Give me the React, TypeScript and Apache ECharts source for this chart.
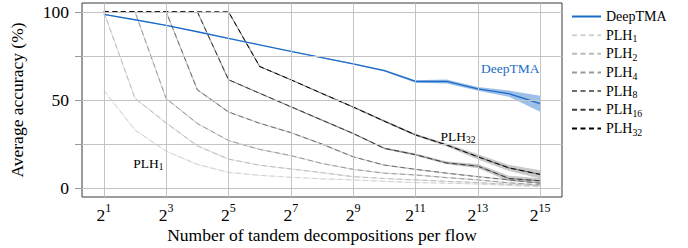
import React, { useEffect, useRef } from "react";
import * as echarts from "echarts";

const FONT = "'Liberation Serif', 'Times New Roman', Times, serif";

const exps = [1, 2, 3, 4, 5, 6, 7, 8, 9, 10, 11, 12, 13, 14, 15];
const xTickExps = [1, 3, 5, 7, 9, 11, 13, 15];
const yGridValues = [0, 25, 50, 75, 100];
const yLabelValues = [0, 50, 100];

const deepTMA = [98.5, 95.5, 92.3, 88.7, 85, 81.3, 77.6, 74, 70.5, 66.7, 60.5, 60.5, 56.3, 53.6, 47.9];
const deepTMALow = [98.3, 95.3, 92.1, 88.5, 84.8, 81.1, 77.4, 73.7, 70.1, 66.2, 59.8, 59.4, 55.2, 51.8, 43.4];
const deepTMAHigh = [98.7, 95.7, 92.5, 88.9, 85.2, 81.5, 77.8, 74.3, 70.9, 67.2, 61.2, 61.6, 57.4, 55.4, 52.4];

const plh1 = [55.5, 33, 21, 13.5, 9, 7.3, 6.2, 5.3, 4.7, 3.9, 3.2, 2.8, 2.4, 1.6, 0.8];
const plh2 = [100, 51, 37, 24, 16.5, 13, 10.9, 8.8, 6.5, 5.5, 4.7, 3.9, 3.2, 2.2, 1.3];
const plh4 = [100, 100, 50.8, 36.7, 27, 22, 18.5, 14, 10.7, 8.5, 7.5, 6, 4.7, 3, 1.9];
const plh8 = [100, 100, 100, 55.8, 43.2, 36.8, 31.5, 25, 17.8, 13.1, 10.7, 8.5, 6.5, 4.7, 2.8];
const plh16 = [100, 100, 100, 100, 61.5, 53.8, 46.2, 38.6, 31, 22.6, 19, 14.3, 12.5, 5.5, 4.2];
const plh32 = [100, 100, 100, 100, 100, 69, 61.5, 53.7, 46, 38, 30.2, 24.5, 17.8, 11.5, 7.8];
const plh16Spread = [0, 0, 0, 0, 0.3, 0.3, 0.3, 0.3, 0.4, 0.5, 0.6, 0.8, 1.2, 1.6, 1.4];
const plh32Spread = [0, 0, 0, 0, 0, 0.3, 0.3, 0.3, 0.4, 0.5, 0.6, 0.9, 1.5, 1.7, 2.3];

const plhNames = ["PLH1", "PLH2", "PLH4", "PLH8", "PLH16", "PLH32"];
const plhValues = [plh1, plh2, plh4, plh8, plh16, plh32];
const plhColors = ["#d2d2d2", "#bcbcbc", "#9a9a9a", "#6e6e6e", "#3c3c3c", "#000000"];

const BLUE = "#1b6cc6";

const pts = (vals: number[]) => exps.map((e, i) => [e, vals[i]]);

function bandSeries(lo: number[], hi: number[], color: string, opacity: number) {
  return {
    type: "custom",
    silent: true,
    z: 1,
    data: [[exps[0], lo[0]]],
    renderItem: (_params: any, api: any) => {
      const top = exps.map((e, i) => api.coord([e, hi[i]]));
      const bot = exps.map((e, i) => api.coord([e, lo[i]])).reverse();
      return {
        type: "polygon",
        shape: { points: top.concat(bot) },
        style: { fill: color, opacity },
      };
    },
  };
}

const subRich = (size: number, pad: number) => ({
  a: { fontFamily: FONT, fontSize: size, color: "#000" },
  s: { fontFamily: FONT, fontSize: size * 0.7, color: "#000", padding: [pad, 0, 0, 0] },
});

export default function App() {
  const ref = useRef<HTMLDivElement>(null);
  useEffect(() => {
    if (!ref.current) return;
    const chart = echarts.init(ref.current, null, { renderer: "svg" });

    const series: any[] = [];
    series.push({
      name: "grid",
      type: "line",
      data: [[exps[0], deepTMA[0]]],
      symbol: "none",
      silent: true,
      lineStyle: { opacity: 0 },
      z: 0,
      markLine: {
        silent: true,
        symbol: ["none", "none"],
        label: { show: false },
        lineStyle: { color: "#c4c4c4", width: 1, type: "solid" },
        data: [
          ...xTickExps.map((v) => ({ xAxis: v })),
          ...yGridValues.map((v) => ({ yAxis: v })),
        ],
      },
    });
    series.push(bandSeries(deepTMALow, deepTMAHigh, "#7eaae0", 0.75));
    series.push(
      bandSeries(
        plh16.map((v, i) => v - plh16Spread[i]),
        plh16.map((v, i) => v + plh16Spread[i]),
        "#8a8a8a",
        0.45
      )
    );
    series.push(
      bandSeries(
        plh32.map((v, i) => v - plh32Spread[i]),
        plh32.map((v, i) => v + plh32Spread[i]),
        "#8a8a8a",
        0.45
      )
    );
    // faint solid underlay (narrow spread) for each PLH line after its plateau
    plhNames.forEach((name, k) => {
      const vals = plhValues[k];
      let start = 0;
      vals.forEach((v, i) => {
        if (v >= 100) start = i;
      });
      series.push({
        name: name + "Spread",
        type: "line",
        data: pts(vals).filter((_, i) => i >= start),
        symbol: "none",
        silent: true,
        lineStyle: { color: plhColors[k], width: 1.2, opacity: 0.4 },
        z: 2,
      });
    });
    plhNames.forEach((name, k) => {
      const s: any = {
        name,
        type: "line",
        data: pts(plhValues[k]),
        symbol: "none",
        color: plhColors[k],
        lineStyle: { color: plhColors[k], width: 1, type: [5, 3.5] },
        z: 3,
      };
      if (name === "PLH1" || name === "PLH32") {
        const sub = name.slice(3);
        s.markPoint = {
          symbol: "rect",
          symbolSize: 1,
          itemStyle: { color: "rgba(0,0,0,0)" },
          label: {
            show: true,
            position: "inside",
            formatter: `{a|PLH}{s|${sub}}`,
            color: "#000",
            rich: subRich(13.5, 7),
          },
          data: [{ coord: name === "PLH1" ? [2.43, 14] : [12.36, 29.5] }],
        };
      }
      series.push(s);
    });
    series.push({
      name: "DeepTMA",
      type: "line",
      data: pts(deepTMA),
      symbol: "none",
      color: BLUE,
      lineStyle: { color: BLUE, width: 1.3 },
      z: 4,
      markPoint: {
        symbol: "rect",
        symbolSize: 1,
        itemStyle: { color: "rgba(0,0,0,0)" },
        label: {
          show: true,
          position: "inside",
          formatter: "DeepTMA",
          color: BLUE,
          fontFamily: FONT,
          fontSize: 13.5,
        },
        data: [{ coord: [14.04, 67.8] }],
      },
    });

    const option: any = {
      animation: false,
      backgroundColor: "#fff",
      textStyle: { fontFamily: FONT },
      grid: {
        left: 82,
        right: 126,
        top: 3,
        bottom: 51,
        show: true,
        borderColor: "#3a3a3a",
        borderWidth: 1,
        backgroundColor: "rgba(0,0,0,0)",
        outerBoundsMode: "none",
      },
      legend: {
        show: true,
        orient: "vertical",
        left: 571,
        top: 9.5,
        padding: 0,
        itemWidth: 29,
        itemHeight: 14,
        itemGap: 2.9,
        data: ["DeepTMA", ...plhNames],
        itemStyle: { color: "rgba(0,0,0,0)", borderWidth: 0, opacity: 0 },
        formatter: (name: string) => {
          const m = name.match(/^PLH(\d+)$/);
          return m ? `{a|PLH}{s|${m[1]}}` : `{a|${name}}{s| }`;
        },
        textStyle: {
          fontFamily: FONT,
          fontSize: 14,
          color: "#000",
          rich: subRich(14, 7.5),
        },
      },
      xAxis: {
        type: "value",
        min: 0.3,
        max: 15.7,
        name: "Number of tandem decompositions per flow",
        nameLocation: "middle",
        nameGap: 28.5,
        nameMoveOverlap: false,
        nameTextStyle: { fontFamily: FONT, fontSize: 17.5, color: "#000" },
        axisLine: { show: false },
        splitLine: { show: false },
        axisTick: {
          show: true,
          customValues: xTickExps,
          length: 5,
          lineStyle: { color: "#aaaaaa", width: 1 },
        },
        axisLabel: {
          customValues: xTickExps,
          margin: 5,
          formatter: (v: number) => `{b|2}{e|${v}}`,
          rich: {
            b: { fontFamily: FONT, fontSize: 17.5, color: "#000", padding: [4, 0, 0, 0], verticalAlign: "bottom" },
            e: { fontFamily: FONT, fontSize: 12, color: "#000", verticalAlign: "top" },
          },
        },
      },
      yAxis: {
        type: "value",
        min: -5,
        max: 105,
        name: "Average accuracy (%)",
        nameLocation: "middle",
        nameGap: 56,
        nameMoveOverlap: false,
        nameTextStyle: { fontFamily: FONT, fontSize: 17.5, color: "#000" },
        axisLine: { show: false },
        splitLine: { show: false },
        axisTick: {
          show: true,
          customValues: yGridValues,
          length: 7,
          lineStyle: { color: "#999999", width: 1 },
        },
        axisLabel: {
          customValues: yLabelValues,
          margin: 13,
          fontFamily: FONT,
          fontSize: 17.5,
          color: "#000",
        },
      },
      series,
    };
    chart.setOption(option);
    return () => chart.dispose();
  }, []);
  return (
    <div
      ref={ref}
      style={{ position: "fixed", left: 0, top: 0, width: 688, height: 248, background: "#fff" }}
    />
  );
}
